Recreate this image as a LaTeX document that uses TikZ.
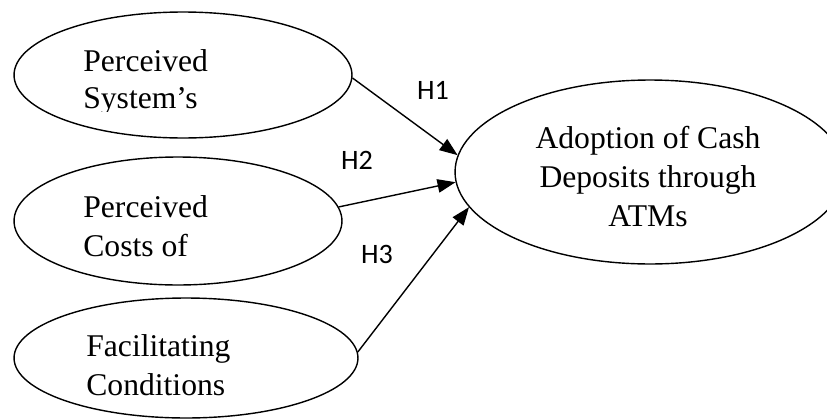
\documentclass[tikz,border=0pt]{standalone}
\usepackage{fontspec}
\setmainfont{Liberation Serif}
\newfontfamily\hfont{Carlito}
\usetikzlibrary{shapes.geometric,arrows.meta}

\begin{document}
\begin{tikzpicture}[x=0.02cm,y=-0.02cm,
        main/.style = {draw, ellipse, line width=0.8pt, inner sep=0pt},
        txt/.style = {font=\fontsize{18}{22}\selectfont, align=left, inner sep=0pt, anchor=base west},
        hyp/.style = {font=\hfont\fontsize{16}{19}\selectfont, inner sep=0pt},
        link/.style = {line width=0.8pt, -{Triangle[length=0.36cm,width=0.27cm]}}]
        \useasboundingbox (0,0) rectangle (827,419);
        % constructs
        \node[main, minimum width=6.76cm, minimum height=2.52cm] (pss) at (183,75) {};
        \node[main, minimum width=6.56cm, minimum height=2.56cm] (pco) at (178,221) {};
        \node[main, minimum width=6.88cm, minimum height=2.40cm] (fc) at (186,358) {};
        \node[main, minimum width=7.80cm, minimum height=3.68cm] (adopt) at (650,172) {};
        % texts (placed at the baseline of their last line)
        \begin{scope}
        \clip (0,0) rectangle (420,111);
        \node[txt, font=\fontsize{18}{20.5}\selectfont] (t1) at (83,108) {Perceived\\System’s};
        \end{scope}
        \node[txt] (t2) at (83,256) {Perceived\\Costs of};
        \node[txt] (t3) at (86,395) {Facilitating\\Conditions};
        \node[txt, align=center, anchor=base] (t4) at (648,226) {Adoption of Cash\\Deposits through\\ATMs};
        % hypotheses
        \draw[link] (pss.-1) -- (adopt.175.6);
        \draw[link] (pco.5) -- (adopt.183.2);
        \draw[link] (fc.2) -- (adopt.191.5);
        \node[hyp] (h1) at (433,90) {H1};
        \node[hyp] (h2) at (357,160) {H2};
        \node[hyp] (h3) at (377,254) {H3};
\end{tikzpicture}
\end{document}
